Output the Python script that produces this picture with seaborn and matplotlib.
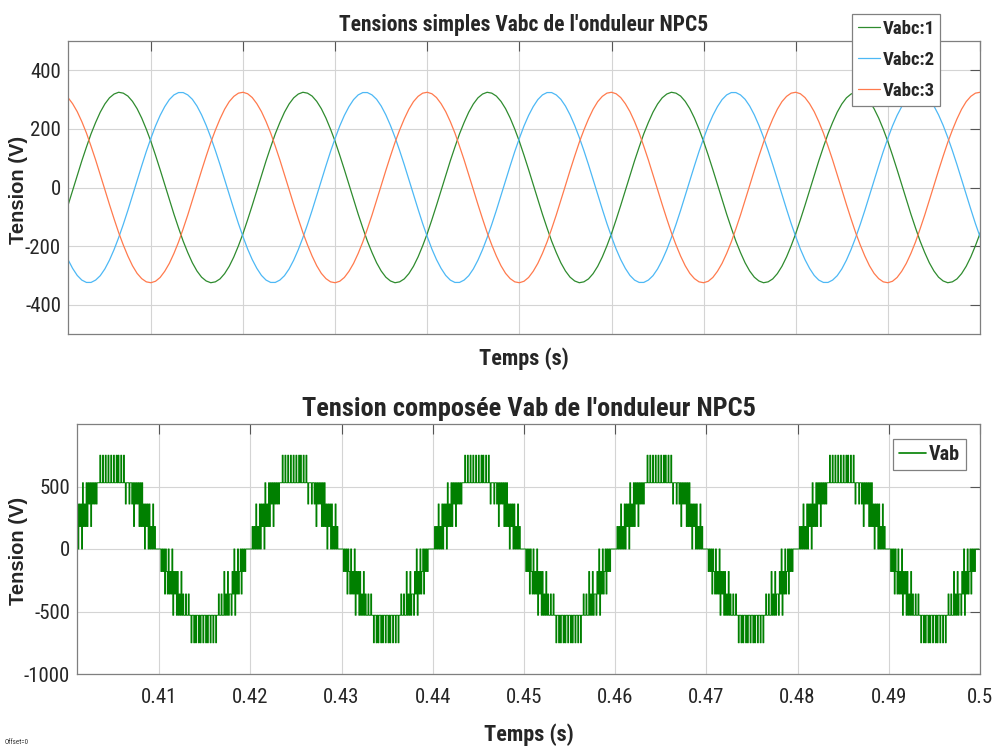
import numpy as np
import pandas as pd
import seaborn as sns
import matplotlib.pyplot as plt
from matplotlib.lines import Line2D

# one period (20 ms) of each phase voltage, read every 0.5 ms starting at t = 0.401 s
va_cycle = [-61, -10, 41, 91, 138, 183, 222, 257, 285, 306,
            319, 325, 322, 312, 294, 269, 237, 199, 157, 110,
            61, 10, -41, -91, -138, -183, -222, -257, -285, -306,
            -319, -325, -322, -312, -294, -269, -237, -199, -157, -110]
vb_cycle = [-246, -276, -300, -316, -324, -324, -316, -301, -278, -248,
            -212, -171, -126, -78, -27, 24, 74, 123, 168, 210,
            246, 276, 300, 316, 324, 324, 316, 301, 278, 248,
            212, 171, 126, 78, 27, -24, -74, -123, -168, -210]
vc_cycle = [307, 286, 259, 225, 186, 141, 94, 44, -7, -58,
            -107, -154, -196, -234, -267, -293, -311, -322, -325, -320,
            -307, -286, -259, -225, -186, -141, -94, -44, 7, 58,
            107, 154, 196, 234, 267, 293, 311, 322, 325, 320]
n_cycles = 5
t_simple = 0.401 + 0.0005 * np.arange(40 * n_cycles)

# line voltage Vab: level index every 0.1 ms over one period starting at t = 0.400 s
vab_levels = [0, 180, 360, 530, 750]
vab_codes = [
    0, 0, 1, 0, 1, 0, 2, 0, 1, 0,
    2, 0, 2, 1, 2, 0, 3, 1, 2, 1,
    3, 1, 3, 2, 3, 1, 3, 2, 3, 2,
    3, 2, 3, 3, 3, 4, 3, 3, 4, 3,
    3, 4, 3, 3, 4, 3, 3, 4, 3, 3,
    4, 3, 3, 4, 3, 4, 3, 3, 4, 3,
    3, 4, 3, 2, 3, 3, 3, 2, 3, 3,
    2, 3, 1, 3, 2, 3, 2, 3, 1, 3,
    1, 3, 1, 2, 0, 2, 1, 2, 0, 2,
    0, 1, 0, 2, 0, 1, 0, 0, 0, 0,
    0, 0, -1, 0, -1, 0, -2, 0, -1, -2,
    0, -2, -1, -2, 0, -3, -1, -2, -1, -3,
    -1, -3, -2, -3, -1, -3, -2, -3, -3, -2,
    -3, -3, -2, -3, -3, -4, -3, -3, -4, -3,
    -4, -3, -3, -4, -3, -4, -3, -3, -4, -3,
    -3, -4, -3, -4, -3, -3, -4, -3, -3, -4,
    -3, -3, -4, -3, -3, -2, -3, -3, -2, -3,
    -3, -1, -3, -2, -3, -1, -3, -2, -2, -3,
    -1, -2, 0, -3, -1, -2, 0, -2, -1, 0,
    -2, 0, -1, 0, -1, 0, 0, 0, 0, 0,
]

labels_simple = ["Vabc:1", "Vabc:2", "Vabc:3"]
colors_simple = ["#2E8B2E", "#4DB8F5", "#FF7A4D"]
vab_color = "#008000"
xticks = [0.41, 0.42, 0.43, 0.44, 0.45, 0.46, 0.47, 0.48, 0.49, 0.5]
xticklabels = ["0.41", "0.42", "0.43", "0.44", "0.45", "0.46", "0.47", "0.48", "0.49", "0.5"]

# build tables
simple = pd.DataFrame({
    "t": np.concatenate([t_simple] * 3),
    "v": np.concatenate([np.tile(va_cycle, n_cycles), np.tile(vb_cycle, n_cycles),
                         np.tile(vc_cycle, n_cycles)]),
    "phase": np.repeat(labels_simple, len(t_simple)),
})
codes = np.tile(vab_codes, n_cycles)
vab = np.sign(codes) * np.array(vab_levels)[np.abs(codes)]
t_vab = 0.400 + 0.0001 * np.arange(len(vab))

sns.set_style("whitegrid")
narrow = ["Roboto Condensed", "DejaVu Sans"]
plt.rcParams["font.family"] = narrow
plt.rcParams["axes.unicode_minus"] = False

fig = plt.figure(figsize=(9.95, 7.52), dpi=100)
ax1 = fig.add_axes([68 / 995, 1 - 334 / 752, 912 / 995, 293 / 752])
ax2 = fig.add_axes([77 / 995, 1 - 674 / 752, 903 / 995, 250 / 752])

sns.lineplot(data=simple, x="t", y="v", hue="phase", palette=colors_simple,
             estimator=None, sort=False, linewidth=0.9, ax=ax1)
sns.lineplot(x=t_vab, y=vab, estimator=None, sort=False, color=vab_color,
             linewidth=0.7, drawstyle="steps-post", ax=ax2)

for ax in (ax1, ax2):
    ax.set_xlim(0.401, 0.5)
    ax.set_xticks(xticks)
    ax.grid(True, color="#d4d4d4", linewidth=0.8)
    ax.tick_params(direction="in", length=7, width=0.8, color="#555555",
                   top=True, right=True, labelsize=15, labelcolor="#262626")
    ax.tick_params(axis="x", pad=10)
    ax.tick_params(axis="y", pad=5)
    for s in ax.spines.values():
        s.set_color("#7f7f7f")
        s.set_linewidth(0.9)
    ax.set_ylabel("Tension (V)", fontsize=14.5, fontweight="bold",
                  family=["Liberation Sans", "DejaVu Sans"])

ax1.set_ylim(-500, 500)
ax1.set_yticks([-400, -200, 0, 200, 400])
ax1.set_xticklabels([])
ax1.set_xlabel("Temps (s)", fontsize=16, fontweight="bold", labelpad=0)
ax1.set_title("Tensions simples Vabc de l'onduleur NPC5", fontsize=15.5,
              fontweight="bold", pad=7)
ax1.yaxis.set_label_coords(28 / 995, 1 - 190 / 752, transform=fig.transFigure)

ax2.set_ylim(-1000, 1000)
ax2.set_yticks([-1000, -500, 0, 500])
ax2.set_xticklabels(xticklabels)
ax2.set_xlabel("Temps (s)", fontsize=16, fontweight="bold", labelpad=12)
ax2.set_title("Tension composée Vab de l'onduleur NPC5", fontsize=19,
              fontweight="bold", pad=6)
ax2.yaxis.set_label_coords(28 / 995, 1 - 551 / 752, transform=fig.transFigure)

leg1 = ax1.legend(loc="upper left", bbox_to_anchor=(852 / 995, 1 - 14 / 752),
                  bbox_transform=fig.transFigure, frameon=True, fancybox=False,
                  framealpha=1, edgecolor="#808080", handlelength=1.2,
                  handletextpad=0.12, labelspacing=0.7, borderpad=0.3,
                  borderaxespad=0,
                  prop={"weight": "bold", "size": 13.5, "family": narrow})
leg1.get_frame().set_linewidth(0.9)

vab_handle = Line2D([], [], color=vab_color, linewidth=1.2)
leg2 = ax2.legend([vab_handle], ["Vab"], loc="upper right",
                  bbox_to_anchor=(966 / 995, 1 - 439 / 752),
                  bbox_transform=fig.transFigure, frameon=True, fancybox=False,
                  framealpha=1, edgecolor="#808080", handlelength=1.35,
                  handletextpad=0.12, borderpad=0.3, borderaxespad=0,
                  prop={"weight": "bold", "size": 14.5, "family": narrow})
leg2.get_frame().set_linewidth(0.9)

fig.text(5 / 995, 1 - 742 / 752, "Offset=0", fontsize=5, color="#333333", va="center")

fig.savefig("out.png", dpi=100)
